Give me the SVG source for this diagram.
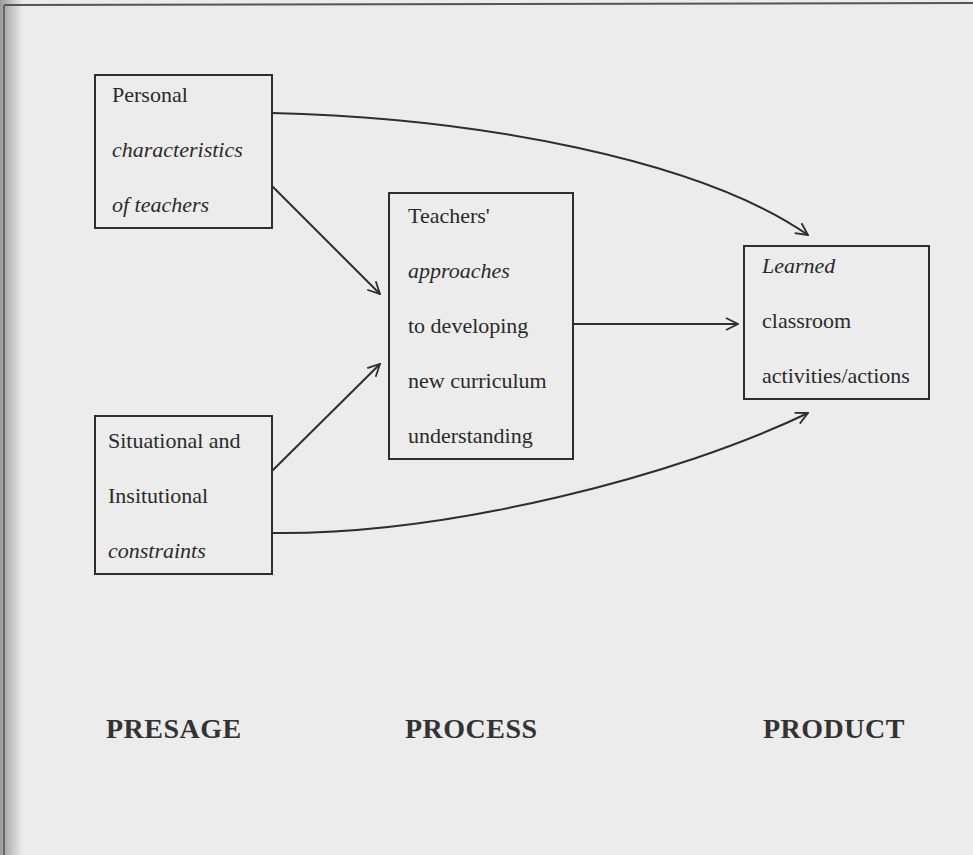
<svg xmlns="http://www.w3.org/2000/svg" width="973" height="855" viewBox="0 0 973 855">
<defs>
<style>
.box{fill:none;stroke:#2e2e2e;stroke-width:2}
.t{font-family:"Liberation Serif","Times New Roman",serif;font-size:22px;fill:#2a2a2a}
.i{font-style:italic}
.lbl{font-family:"Liberation Serif","Times New Roman",serif;font-size:28px;font-weight:bold;fill:#333;letter-spacing:0.5px}
.c{fill:none;stroke:#2e2e2e;stroke-width:2}
</style>
<marker id="ah" viewBox="0 0 14 14" refX="13" refY="7" markerWidth="14" markerHeight="14" markerUnits="userSpaceOnUse" orient="auto">
<path d="M1,1 L13,7 L1,13" fill="none" stroke="#2e2e2e" stroke-width="1.8"/>
</marker>
<linearGradient id="edge" x1="0" y1="0" x2="1" y2="0">
<stop offset="0" stop-color="#9a9a9a"/>
<stop offset="1" stop-color="#e9e9e9"/>
</linearGradient>
</defs>
<rect x="0" y="0" width="973" height="855" fill="#ececec"/>
<rect x="0" y="0" width="22" height="855" fill="url(#edge)"/>
<line x1="4" y1="5" x2="973" y2="3" stroke="#555" stroke-width="2"/>
<line x1="4" y1="5" x2="4" y2="855" stroke="#666" stroke-width="2"/>

<g id="presage-personal">
<rect class="box" x="95" y="75" width="177" height="153"/>
<text class="t" x="112" y="102">Personal</text>
<text class="t i" x="112" y="157">characteristics</text>
<text class="t i" x="112" y="212">of teachers</text>
</g>
<g id="presage-situational">
<rect class="box" x="95" y="416" width="177" height="158"/>
<text class="t" x="108" y="448">Situational and</text>
<text class="t" x="108" y="503">Insitutional</text>
<text class="t i" x="108" y="558">constraints</text>
</g>
<g id="process">
<rect class="box" x="389" y="193" width="184" height="266"/>
<text class="t" x="408" y="223">Teachers'</text>
<text class="t i" x="408" y="278">approaches</text>
<text class="t" x="408" y="333">to developing</text>
<text class="t" x="408" y="388">new curriculum</text>
<text class="t" x="408" y="443">understanding</text>
</g>
<g id="product">
<rect class="box" x="744" y="246" width="185" height="153"/>
<text class="t i" x="762" y="273">Learned</text>
<text class="t" x="762" y="328">classroom</text>
<text class="t" x="762" y="383">activities/actions</text>
</g>

<g id="connectors">
<path class="c" d="M272,113 C480,118 700,160 808,235" marker-end="url(#ah)"/>
<line class="c" x1="272" y1="186" x2="380" y2="294" marker-end="url(#ah)"/>
<line class="c" x1="272" y1="471" x2="380" y2="364" marker-end="url(#ah)"/>
<line class="c" x1="573" y1="324" x2="738" y2="324" marker-end="url(#ah)"/>
<path class="c" d="M272,533 C450,535 680,475 808,413" marker-end="url(#ah)"/>
</g>

<g id="labels">
<text class="lbl" x="106" y="738">PRESAGE</text>
<text class="lbl" x="405" y="738">PROCESS</text>
<text class="lbl" x="763" y="738">PRODUCT</text>
</g>
</svg>
